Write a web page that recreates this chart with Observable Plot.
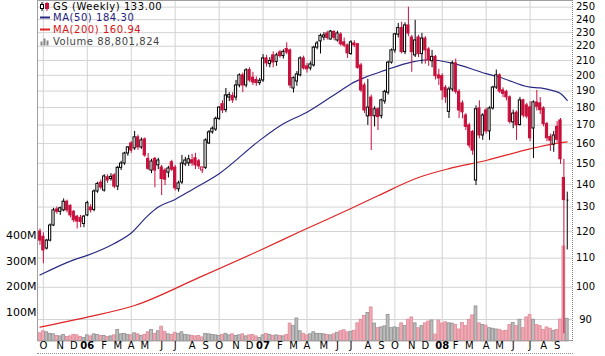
<!DOCTYPE html>
<html><head><meta charset="utf-8">
<script src="https://cdn.jsdelivr.net/npm/d3@7"></script>
<script src="https://cdn.jsdelivr.net/npm/@observablehq/plot@0.6"></script>
<style>
body{margin:0;background:#fff;}
#chart{position:relative;width:605px;height:356px;overflow:hidden;background:#fff;font-family:"DejaVu Sans",Verdana,sans-serif;}
#chart svg{position:absolute;left:0;top:0;}
.lg{position:absolute;left:40px;font-size:10px;letter-spacing:0.55px;height:11px;white-space:nowrap;display:flex;align-items:center;}
.lg svg{position:static !important;margin-right:3px;}
.lg span{display:block;height:11px;line-height:11px;}
.edge{position:absolute;}
</style></head><body><div id="chart"></div>
<script>
// ---- data (weekly GS, first week starts Mon 26 Sep 2005) ----
const firstWeek = Date.UTC(2005, 8, 26);
const open = [120,118,113.5,116.5,122.4,129,128,128.6,132.3,130.5,128,126,125.5,123,
126.5,129.8,128.8,136.8,140.8,137.2,143.3,142.5,144.2,139,147.8,149.9,154.9,160.1,
157.5,163.3,158,162.2,152.2,146.5,152.2,149,148,146.5,145.5,150.5,147.9,
137.8,140.9,149.5,150,151.5,152.5,151,146.5,147.8,160.1,166,167.5,173.5,182,178.5,186,187,186,193.5,200,193.5,203.5,198.5,197,195,
196.7,211.4,207.5,213.5,209,215.6,213,218,217,191.6,196,200,211.4,206,204.6,
206.6,219,223.5,226.4,229.4,224.9,230.5,224.2,228.5,222.8,220.6,
214.5,222,221.5,206.6,193.5,174.9,186,175,179,175,183.7,189,208.5,217,228.5,233.5,215.8,235.5,226.4,213.5,226.4,214.4,225.6,217.7,209.5,212.5,200,199.5,192,177.5,191,208,189.5,182.5,175.4,169.8,166.2,141.8,179.5,164.3,178.3,166.5,179.5,192.2,200,190.4,189.5,186.1,171.5,177,170,184.3,181.3,180.1,168.1,183,182.5,179.5,170.5,163.5,159.5,169,172.6,143];
const high = [121,119.5,117,123,129.5,130,130,133.5,133,131,128.6,126.5,126.5,126.5,
132.5,131,137.5,141,142,144.5,144.5,145,145,148.5,151,155.5,158.5,161,
166.5,164.5,163,163,154.9,152,153,152.5,149,147.5,148.5,151.5,149,
141.5,153.9,153,154,154.5,155,152,148,162.5,167,169,174.5,180.5,184,191.6,189,189,196.7,201,201.5,204.4,205,202,199,198,
214,213.5,212,216,215,217,217.5,222.5,218,199,202.5,212.5,213,208,209,
220,223.5,229,230,231,231.6,231.5,231,230,226,221.5,
224,224,222,208,195,197.4,187.5,180.5,180,185,190.5,209.5,218,229.5,237,238,237.5,250,228,239.4,228,229.5,227,219,217,213.5,204,201,193.5,192.5,209.5,211,191,184,176.5,171,167,181,184,176.5,179.5,180.5,193,203.5,201,192,190.5,187,178.5,178,186.1,185,182.5,183.5,184,190.4,186,180.5,171.5,165,166.5,172,173.7,152];
const low = [114.7,108,113,116,122,127,126.5,128,127.5,125.5,123.5,121,121.5,121.5,
126,127.5,128,136,137.5,136.5,140.5,141.5,138,137.2,146.5,149,153.5,155,
156.5,156.5,157,153,146.5,145,138.5,147,135,139.5,143,146,137,
136.5,140,148.5,148.5,148.5,147,147,145,147,159.5,165,166.5,172.5,176.5,177,183.5,182.5,184,192,189,192,195.5,193.5,193,193.5,
195.5,205.5,205,205,206,211.5,211,214,191.6,188.8,193,199,203.5,201.5,203,
205.5,217.5,214.5,224,224.5,224.5,224,223,220,219,211.4,
213.5,219,204,189,176.5,169.8,156.4,169,167,173.5,182,187.5,207.5,215,226,214.5,214,227,202,212,212,207.5,207.5,206,205,197,193.5,184.3,182.5,173.7,189.5,188,173.7,173.5,167,157.5,154,139.5,162.5,161.7,165,161.7,178.5,191,188.5,186,184,170.5,168,161.7,169.5,174,173.5,161,152.4,178,176,169,161,156,155.5,160.5,149.5,85.9];
const close = [116.5,112.8,116.5,122.4,128.6,128,129.5,132.3,128.6,126.5,124.5,124,123.8,126,
131.7,128.6,136.8,140.2,138.6,143.7,141.8,143.5,139,147.8,149.9,154.9,158,156.4,
163.3,158,161.7,153.9,147.3,150.9,146.5,151.4,142.5,142.2,147.5,146.9,138.2,
140.5,149.9,151.4,152,150,149,148.5,148,161.7,166,168,173.5,180,178.3,187.3,187.5,184.3,193.5,200,193.5,203.3,196.7,195.4,195,196.5,
211.4,208,209.7,208.6,213.5,213,216,215.5,193.5,198.2,200.6,211.4,204.6,204,207.3,
219,222,227.6,227.9,226,230.8,226.2,229.4,221.4,220.5,214.9,
222.8,220.6,205,190.4,178.3,180,175,179,174.5,184.3,189.5,208.5,217,228.7,233.5,215.8,235.5,229.3,215.8,224.2,214.4,225.6,217,210,212.5,199.5,198,190.4,186.1,191,207.9,189.5,178.3,177.2,169,159,156.4,179,164.3,175.4,166.5,179.5,192.2,200,189.7,188.3,186.1,171.8,176.5,169.8,184.3,175.4,174.8,162.8,183.1,180.5,178.5,170.5,162.8,161.5,164.3,162,152,133];
// final partial bar (high, low, last)
const lastBar = [136.5, 113, 133];
// weekly volume, millions of shares (last value = partial bar)
const volume = [32,40,36,30,28,22,20,25,18,20,26,24,18,14,
24,20,28,26,22,22,18,20,24,45,28,30,26,24,
32,28,22,26,36,45,30,40,58,38,28,26,34,
30,36,26,24,22,20,22,16,30,28,26,24,22,26,30,24,28,22,24,28,20,24,26,20,14,
24,30,26,22,24,22,20,26,70,60,90,40,30,24,28,
36,30,30,28,26,24,28,34,40,44,36,
38,42,71,85,100,111,133,70,52,55,59,104,52,55,52,71,60,85,94,71,52,60,71,78,82,27,82,70,75,71,70,65,47,72,60,85,102,137,71,65,62,52,50,47,46,40,42,64,72,60,85,52,94,104,85,65,60,45,55,50,42,45,86,371,88.8];
// moving averages (week index, value)
const ma50Week  = [0,10,14,22,27,32,35,40,45,53,65,72,79,89,92,96,102,110,115,122,132,136,145,148,152,154,156];
const ma50Value = [104.1,109.4,111,115.4,119.4,126.5,130,133.3,137.6,145,161.7,170.7,177.3,190.4,194.5,198.5,203.3,208.9,210.5,208.2,201.1,198.8,192.4,192,190.1,188.5,184.3];
const ma200Week  = [0,14,28,47,65,77,92,100,112,121,132,145,152,156];
const ma200Value = [87.8,90.7,94.2,103.2,112.8,120,129.4,134.9,143.2,147.4,151.4,157.3,159.9,160.94];
const priceTicks = [90,100,110,120,130,140,150,160,170,180,190,200,210,220,230,240,250];
const volumeTicks = [100,200,300,400];
const monthLetters = ["J","F","M","A","M","J","J","A","S","O","N","D"];

// ---- derived tables ----
const RED = "#c8103c";
const candles = open.map((o, k) => ({i: k, o, h: high[k], l: low[k], c: close[k],
  up: k === 0 ? close[k] >= o : close[k] >= close[k - 1]}));
const lastIdx = open.length;
const last = {i: lastIdx, h: lastBar[0], l: lastBar[1], c: lastBar[2]};
const vols = volume.map((v, k) => ({i: k, v,
  up: k < lastIdx ? candles[k].up : last.c >= close[lastIdx - 1]}));
const weekDates = d3.range(volume.length).map(k => new Date(firstWeek + k * 7 * 864e5));
const months = [];
weekDates.forEach((d, k) => {
  if (k > 0 && d.getUTCMonth() !== weekDates[k - 1].getUTCMonth())
    months.push({i: k, m: d.getUTCMonth(), y: d.getUTCFullYear()});
});
const quarters = months.filter(d => d.m % 3 === 0).map(d => d.i);
const ma50 = ma50Week.map((w, k) => ({i: w, v: ma50Value[k]}));
const ma200 = ma200Week.map((w, k) => ({i: w, v: ma200Value[k]}));

const base = {
  width: 605, height: 356, marginLeft: 38, marginRight: 33, marginTop: 0, marginBottom: 15,
  x: {type: "linear", domain: [-0.44, 157.55], axis: null},
  style: {background: "none", overflow: "visible", fontFamily: "'DejaVu Sans', Verdana, sans-serif"}
};
const priceY = {type: "log", domain: [83.75, 255.5], axis: null};

const grid = Plot.plot({...base, y: priceY, marks: [
  Plot.ruleY(priceTicks, {stroke: "#d3d3d3", strokeWidth: 1}),
  Plot.ruleX(quarters, {stroke: "#d3d3d3", strokeWidth: 1})
]});

const volPlot = Plot.plot({...base, y: {type: "linear", domain: [0, 1332], axis: null}, marks: [
  Plot.rect(vols, {x1: d => d.i - 0.42, x2: d => d.i + 0.42, y1: 0, y2: "v",
    fill: d => d.up ? "#bdbdbd" : "#f2a9b4", stroke: d => d.up ? "#8e8e8e" : "#dc8a98", strokeWidth: 0.8}),
  Plot.text(volumeTicks, {y: d => d, text: d => d + "M", frameAnchor: "left", textAnchor: "end",
    dx: -2, dy: -3.6, fontSize: 11, fill: "#000"})
]});

const up = candles.filter(d => d.up), dn = candles.filter(d => !d.up);
const main = Plot.plot({...base, y: priceY, marks: [
  Plot.line(ma200, {x: "i", y: "v", stroke: "#e02424", strokeWidth: 1.2, curve: "monotone-x"}),
  Plot.line(ma50, {x: "i", y: "v", stroke: "#2a2a86", strokeWidth: 1.2, curve: "monotone-x"}),
  Plot.ruleX(up, {x: "i", y1: "l", y2: "h", stroke: "#000"}),
  Plot.ruleX(dn, {x: "i", y1: "l", y2: "h", stroke: RED}),
  Plot.rect(up, {x1: d => d.i - 0.33, x2: d => d.i + 0.33, y1: "o", y2: "c",
    fill: d => d.c < d.o ? "#000" : "#fff", stroke: "#000", strokeWidth: 1}),
  Plot.rect(dn, {x1: d => d.i - 0.33, x2: d => d.i + 0.33, y1: "o", y2: "c",
    fill: d => d.c < d.o ? RED : "#fff", stroke: RED, strokeWidth: 1}),
  Plot.ruleX([last], {x: "i", y1: "l", y2: "h", stroke: "#000"}),
  Plot.ruleY([last], {y: "c", x1: "i", x2: d => d.i + 0.5, stroke: "#000"}),
  Plot.text(priceTicks, {y: d => d, text: d => String(d), frameAnchor: "right", textAnchor: "middle",
    dx: 13, fontSize: 10, fill: "#000"}),
  Plot.text(months.filter(d => d.m !== 0), {x: "i", text: d => monthLetters[d.m], frameAnchor: "bottom",
    dy: 7, fontSize: 10, fill: "#000"}),
  Plot.text(months.filter(d => d.m === 0), {x: "i", text: d => String(d.y).slice(2), frameAnchor: "bottom",
    dy: 7, fontSize: 10, fontWeight: "bold", fill: "#000"})
]});

const chart = document.getElementById("chart");
chart.append(grid, volPlot, main);

// plot borders: solid left/top/bottom, dotted right, dotted line under the date labels
[["left:37px;top:0;width:0;height:341px;border-left:1px solid #a0a0a0"],
 ["left:37px;top:0;width:535px;height:0;border-top:1px solid #a0a0a0"],
 ["left:37px;top:340px;width:535px;height:0;border-top:1px solid #a0a0a0"],
 ["left:572px;top:0;width:0;height:341px;border-left:1px dotted #808080"],
 ["left:37px;top:353px;width:536px;height:0;border-top:1px dotted #909090"]
].forEach(([css]) => {
  const e = document.createElement("div");
  e.className = "edge"; e.style.cssText += css; chart.append(e);
});

// legend inside the plot, top-left
const legend = [
  {icon: `<svg width="10" height="9"><line x1="2" y1="0" x2="2" y2="9" stroke="#000"/><rect x="0.5" y="2.5" width="3" height="4" fill="#fff" stroke="#000"/><line x1="7" y1="0" x2="7" y2="9" stroke="${RED}"/><rect x="5.5" y="1.5" width="3" height="5" fill="${RED}" stroke="${RED}"/></svg>`,
   text: "GS (Weekly) 133.00", color: "#000"},
  {icon: `<svg width="10" height="9"><rect x="0" y="3.5" width="10" height="2" fill="#2a2a86"/></svg>`,
   text: "MA(50) 184.30", color: "#1e1e80"},
  {icon: `<svg width="10" height="9"><rect x="0" y="3.5" width="10" height="2" fill="#e02424"/></svg>`,
   text: "MA(200) 160.94", color: "#d41414"},
  {icon: `<svg width="10" height="9"><rect x="0.5" y="4.5" width="2" height="4" fill="#888"/><rect x="3.5" y="1.5" width="2" height="7" fill="#888"/><rect x="6.5" y="3.5" width="2" height="5" fill="#888"/></svg>`,
   text: "Volume 88,801,824", color: "#444"}
];
legend.forEach((d, k) => {
  const div = document.createElement("div");
  div.className = "lg";
  div.style.top = (0.5 + k * 11.8) + "px";
  div.style.color = d.color;
  div.innerHTML = d.icon + "<span>" + d.text + "</span>";
  chart.append(div);
});
</script></body></html>
